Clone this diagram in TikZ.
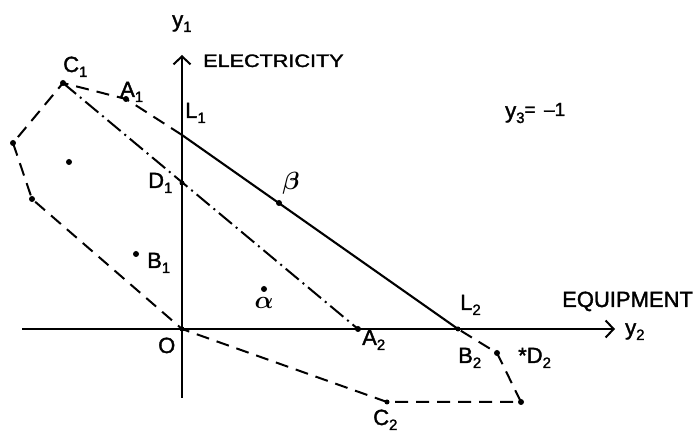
\documentclass[tikz,border=0pt]{standalone}
\usepackage{amsmath}
\usepackage{fontspec}
\setmainfont[FakeBold=1.6]{Liberation Sans}
\usetikzlibrary{arrows.meta}
\newcommand\mysub[2]{#1\raisebox{-5pt}{\fontsize{15}{15}\selectfont #2}}
\begin{document}
\begin{tikzpicture}[x=1pt,y=-1pt,
  pt/.style={circle,fill=black,inner sep=0pt,minimum size=6pt},
  axis/.style={line width=2.2pt,-{Straight Barb[length=8pt,width=17pt,line width=2pt]}},
  solidline/.style={line width=2.1pt},
  polyline/.style={line width=2pt,dash pattern=on 13pt off 8pt},
  dashdot/.style={line width=2pt,dash pattern=on 17pt off 5pt on 2pt off 5pt},
  lab/.style={anchor=base west,inner sep=0pt,font=\fontsize{22}{24}\selectfont},
  greek/.style={inner sep=0pt,font=\fontsize{30}{32}\selectfont}]
\useasboundingbox (0,0) rectangle (697,435);
% reference points
\coordinate (O) at (182,329);
\coordinate (ybot) at (182,398);
\coordinate (ytop) at (182,55);
\coordinate (xleft) at (22,329);
\coordinate (xright) at (615,329);
\coordinate (L1) at (182,135);
\node[pt] (C1) at (63,83) {};
\node[pt] (A1) at (126,99) {};
\node[pt] (P1) at (13,143) {};
\node[pt] (P2) at (32,199) {};
\node[pt] (Pin) at (69,162) {};
\node[pt] (B1) at (136,254) {};
\node[pt] (al) at (264,289) {};
\node[pt] (be) at (279,203) {};
\node[pt,minimum size=5pt] (D1) at (182,183) {};
\node[pt] (A2) at (358,329) {};
\node[pt,minimum size=5pt] (B2) at (458,329) {};
\node[pt] (E1) at (497,353) {};
\node[pt] (E2) at (521,402) {};
\node[pt,minimum size=5pt] (C2) at (387,402) {};
\node[pt,minimum size=5pt] (Od) at (O) {};
% axes
\draw[axis] (ybot) -- (ytop);
\draw[axis] (xleft) -- (xright);
% solid line
\draw[solidline] (L1) -- (B2.center);
% dashed polygon
\draw[polyline] (L1) -- (A1.center) -- (C1.center) -- (P1.center) -- (P2.center) -- (O) -- (C2.center) -- (E2.center) -- (E1.center) -- (B2.center);
% dash-dot line
\draw[dashdot] (C1.center) -- (A2.center);
% labels
\node[lab] (ly1) at (172,27) {\mysub{y}{1}};
\node[anchor=base west,inner sep=0pt,font=\fontsize{18}{20}\selectfont] (lelec) at (203,67) {\scalebox{1.2}[1]{ELECTRICITY}};
\node[lab] (lC1) at (63,72) {\mysub{C}{1}};
\node[lab] (lA1) at (120,97) {\mysub{A}{1}};
\node[lab] (lL1) at (185,118) {\mysub{L}{1}};
\node[lab] (lD1) at (148,188) {\mysub{D}{1}};
\node[greek] (lbe) at (291,183) {$\boldsymbol{\beta}$};
\node[lab] (lB1) at (147,268) {\mysub{B}{1}};
\node[greek] (lal) at (264,303) {$\boldsymbol{\alpha}$};
\node[lab] (lO) at (158,353) {O};
\node[lab] (lA2) at (362,345) {\mysub{A}{2}};
\node[lab] (lL2) at (460,310) {\mysub{L}{2}};
\node[lab] (lB2) at (458,363) {\mysub{B}{2}};
\node[lab] (lD2) at (518,363) {*\mysub{D}{2}};
\node[lab] (lC2) at (373,425) {\mysub{C}{2}};
\node[lab] (leq) at (562,307) {EQUIPMENT};
\node[lab] (ly2) at (625,335) {\mysub{y}{2}};
\node[anchor=base west,inner sep=0pt,font=\fontsize{22}{24}\selectfont] (ly3) at (505,118) {\mysub{y}{3}{\fontsize{19}{20}\selectfont\raisebox{2pt}{= \,–1}}};
\end{tikzpicture}
\end{document}
